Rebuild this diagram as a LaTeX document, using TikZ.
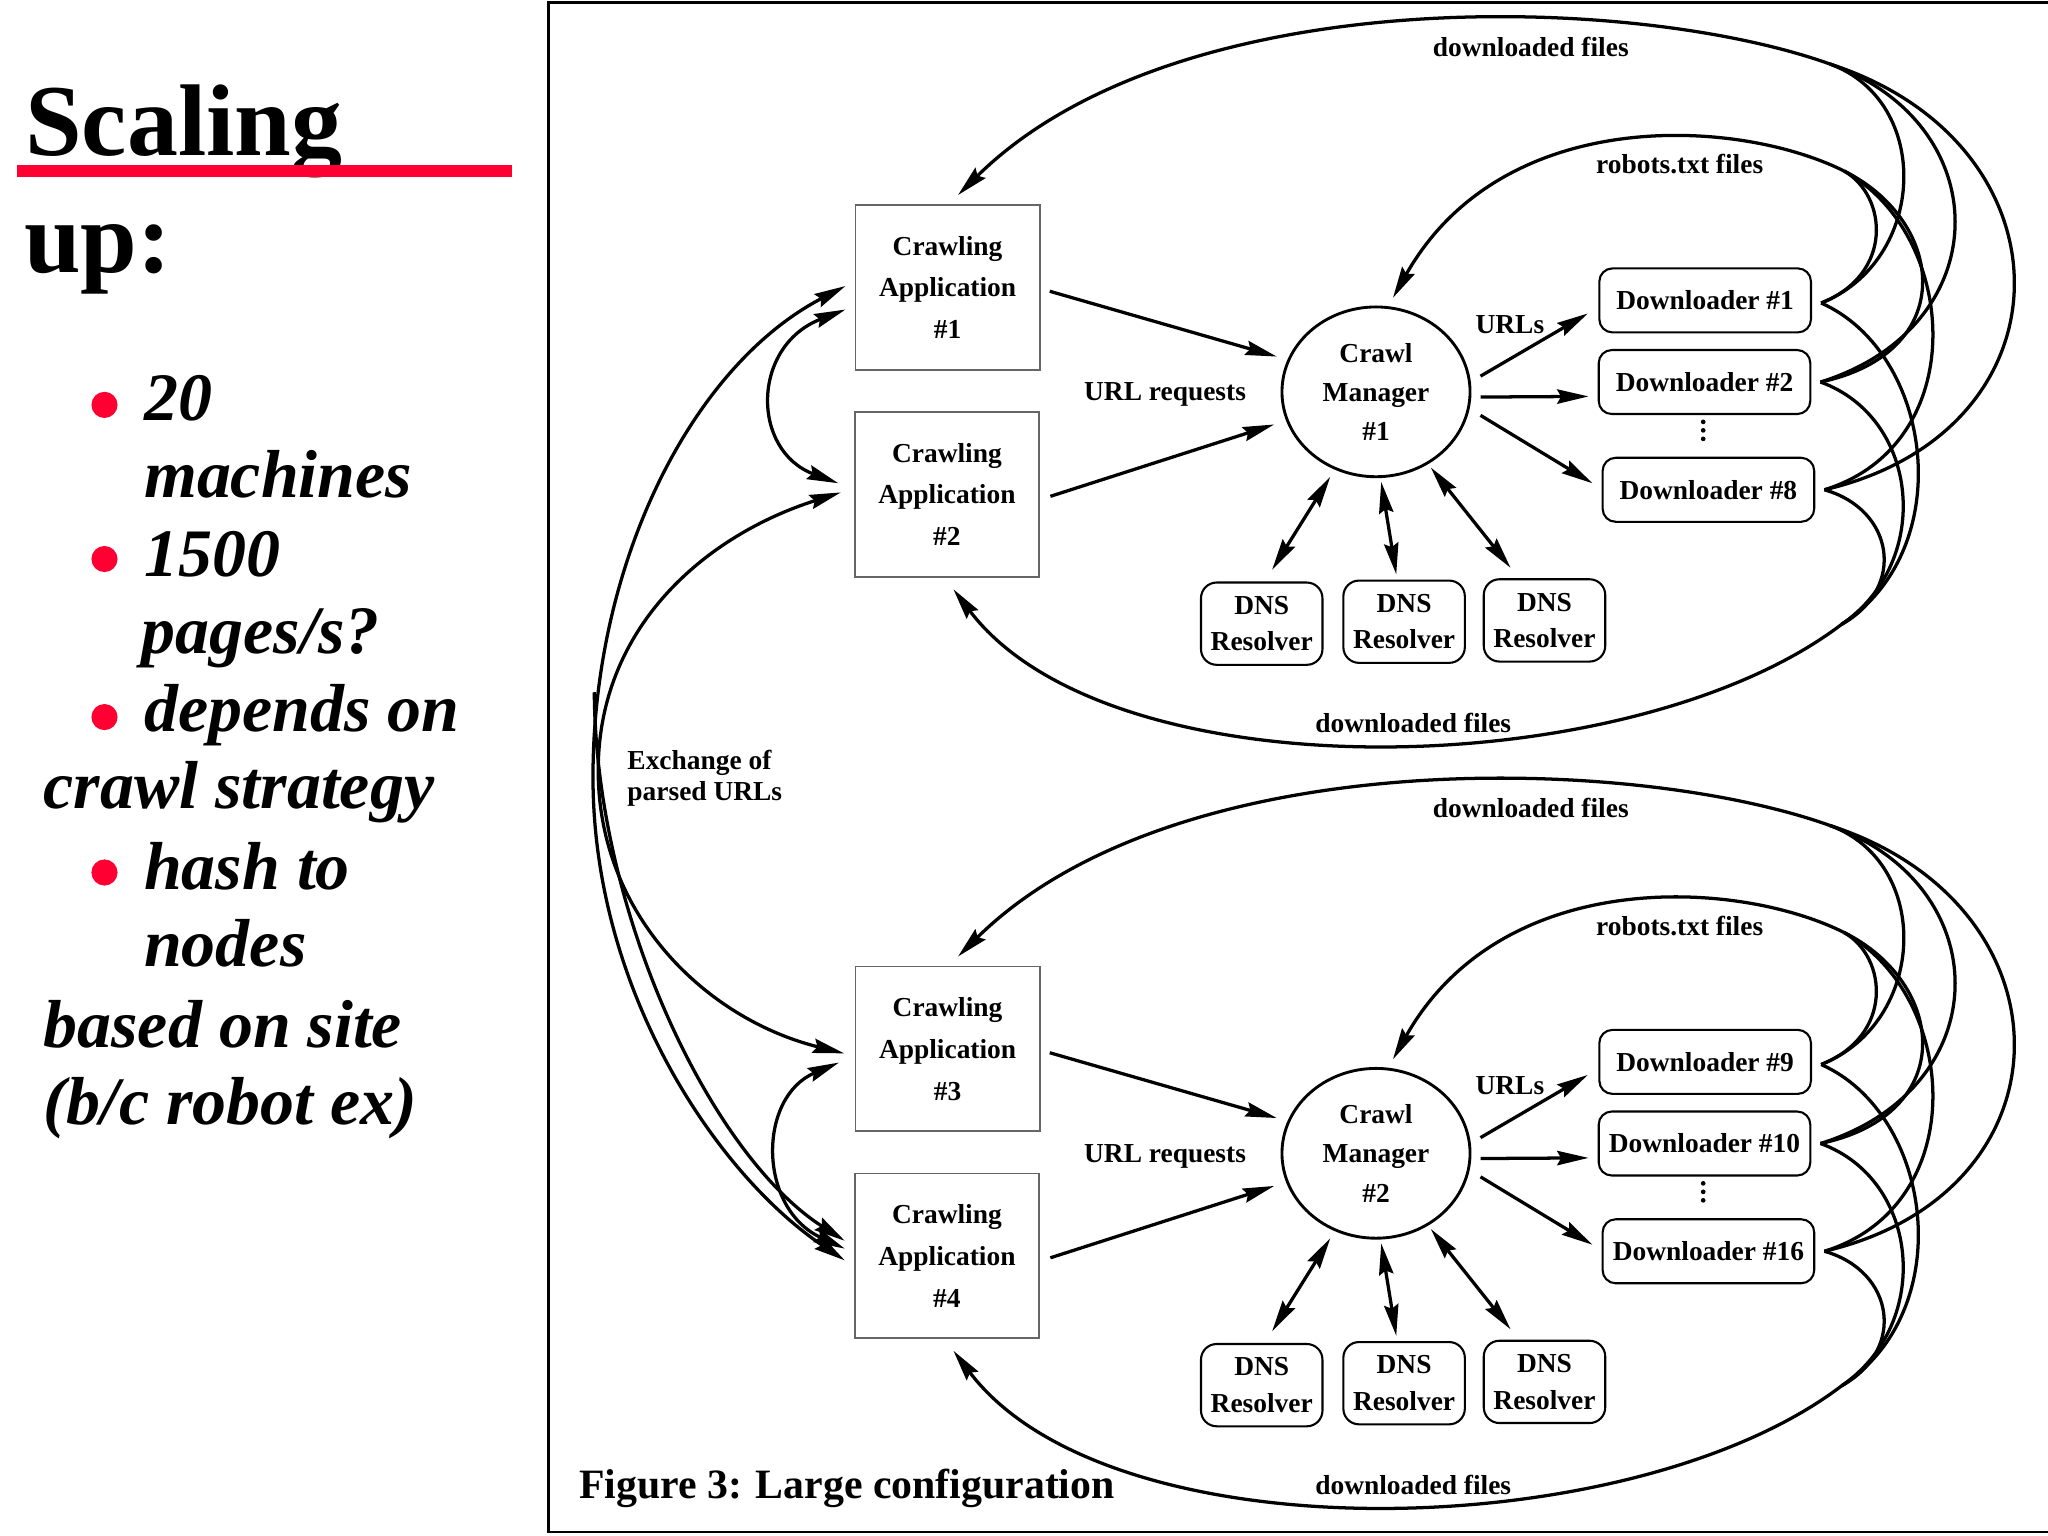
\documentclass[tikz,border=0pt]{standalone}
\usepackage{fontspec}
\setmainfont{Liberation Serif}
\usetikzlibrary{arrows.meta,calc,shapes.geometric}
\definecolor{slidered}{RGB}{255,0,51}

\tikzset{
  dtext/.style={font=\bfseries\fontsize{10.5}{16}\selectfont},
  appbox/.style={draw=black!60, line width=0.7pt, minimum width=70.5pt, minimum height=63pt,
    align=center, inner sep=0pt, dtext},
  cmnode/.style={ellipse, draw, line width=1.1pt, minimum width=72pt, minimum height=65pt,
    inner sep=0pt, align=center, font=\bfseries\fontsize{10.5}{15}\selectfont},
  dlbox/.style={draw, rounded corners=5pt, line width=0.8pt, minimum width=81pt,
    minimum height=24.5pt, inner sep=0pt, dtext},
  dnsbox/.style={draw, rounded corners=6pt, line width=0.8pt, minimum width=46.5pt,
    minimum height=31.5pt, inner sep=0pt, align=center, font=\bfseries\fontsize{10.5}{14}\selectfont},
  lbl/.style={dtext, anchor=base, inner sep=0pt},
  conn/.style={line width=1.25pt},
  arr/.style={conn, -{Stealth[length=12pt,width=5.5pt,inset=1.5pt]}},
  darr/.style={conn, {Stealth[length=12pt,width=5.5pt,inset=1.5pt]}-{Stealth[length=12pt,width=5.5pt,inset=1.5pt]}},
  reddot/.style={circle, fill=slidered, minimum size=10pt, inner sep=0pt},
  bultext/.style={anchor=base west, inner sep=0pt, font=\bfseries\itshape\fontsize{26}{30}\selectfont},
  titletext/.style={anchor=base west, inner sep=0pt, font=\bfseries\fontsize{39}{39}\selectfont}
}

% #1 prefix, #2 #3 application numbers, #4 manager number, #5 #6 #7 downloader numbers, #8 y offset
\newcommand{\crawlhalf}[8]{%
  \node[appbox] (#1app1) at (725.5,{220+#8}) {Crawling\\Application\\\##2};
  \node[appbox] (#1app2) at (725,{378.5+#8}) {Crawling\\Application\\\##3};
  \node[cmnode] (#1cm) at (1053.5,{300+#8}) {Crawl\\Manager\\\##4};
  \node[dlbox] (#1d1) at (1305.5,{230+#8}) {Downloader \##5};
  \node[dlbox] (#1d2) at (1305,{292.5+#8}) {Downloader \##6};
  \node[dlbox] (#1d3) at (1308,{375+#8}) {Downloader \##7};
  \fill (1304,{323+#8}) circle (0.9pt) (1304,{329.5+#8}) circle (0.9pt) (1304,{336+#8}) circle (0.9pt);
  \node[dnsbox] (#1dns1) at (966,{477.5+#8}) {DNS\\Resolver};
  \node[dnsbox] (#1dns2) at (1075,{476+#8}) {DNS\\Resolver};
  \node[dnsbox] (#1dns3) at (1182.5,{475+#8}) {DNS\\Resolver};
  \node[lbl] (#1ldt) at (1172,{43+#8}) {downloaded files};
  \node[lbl] (#1lrb) at (1286,{133+#8}) {robots.txt files};
  \node[lbl] (#1lur) at (892,{307+#8}) {URL requests};
  \node[lbl] (#1lurls) at (1156,{255+#8}) {URLs};
  \node[lbl] (#1ldb) at (1082,{561+#8}) {downloaded files};
  % straight connectors
  \draw[arr] ($(#1app1.east)+(7,3)$) -- ($(#1cm)+(-76,-27)$);
  \draw[arr] ($(#1app2.east)+(8,1.5)$) -- ($(#1cm)+(-78,25)$);
  \draw[arr] ($(#1cm)+(80,-12)$) -- ($(#1d1.west)+(-8,10)$);
  \draw[arr] ($(#1cm)+(80,4)$) -- ($(#1d2.west)+(-7,11)$);
  \draw[arr] ($(#1cm)+(80,18)$) -- ($(#1d3.west)+(-7,-5)$);
  \draw[darr] ($(#1cm)+(-35,65)$) -- ($(#1dns1.north)+(8,-9)$);
  \draw[darr] ($(#1cm)+(4,69)$) -- ($(#1dns2.north)+(-6,-4)$);
  \draw[darr] ($(#1cm)+(42,58)$) -- ($(#1dns3.north)+(-26,-8)$);
  % convergence points
  \coordinate (#1T) at (1401,{49+#8});
  \coordinate (#1R) at (1412,{131+#8});
  \coordinate (#1B) at (1410,{478+#8});
  % downloaded files (top) to upper application
  \draw[arr] (#1T) .. controls (1250,{-5+#8}) and (900,{-15+#8}) .. ($(#1app1.north)+(8,-7)$);
  \draw[conn] (#1T) .. controls (1480,{78+#8}) and (1475,{200+#8}) .. ($(#1d1.east)+(7,2)$);
  \draw[conn] (#1T) .. controls (1530,{95+#8}) and (1530,{250+#8}) .. ($(#1d2.east)+(7,0)$);
  \draw[conn] (#1T) .. controls (1590,{110+#8}) and (1590,{330+#8}) .. ($(#1d3.east)+(7,0)$);
  % robots.txt files to crawl manager
  \draw[arr] (#1R) .. controls (1330,{90+#8}) and (1150,{80+#8}) .. ($(#1cm)+(13,-72)$);
  \draw[conn] (#1R) .. controls (1445,{150+#8}) and (1450,{210+#8}) .. ($(#1d1.east)+(7,2)$);
  \draw[conn] (#1R) .. controls (1490,{170+#8}) and (1500,{270+#8}) .. ($(#1d2.east)+(7,0)$);
  \draw[conn] (#1R) .. controls (1500,{180+#8}) and (1510,{340+#8}) .. ($(#1d3.east)+(7,0)$);
  % downloaded files (bottom) to lower application
  \draw[arr] (#1B) .. controls (1250,{600+#8}) and (850,{610+#8}) .. ($(#1app2.south)+(5,9)$);
  \draw[conn] ($(#1d1.east)+(7,2)$) .. controls (1480,{270+#8}) and (1500,{420+#8}) .. (#1B);
  \draw[conn] ($(#1d2.east)+(7,0)$) .. controls (1470,{320+#8}) and (1480,{430+#8}) .. (#1B);
  \draw[conn] ($(#1d3.east)+(7,0)$) .. controls (1450,{390+#8}) and (1460,{450+#8}) .. (#1B);
}

\begin{document}
\begin{tikzpicture}[x=0.5pt,y=-0.5pt]
  \useasboundingbox (0,0) rectangle (1568,1176);
  \fill[white] (0,0) rectangle (1568,1176);

  % slide text
  \node[titletext] (title1) at (19,119) {Scaling};
  \node[titletext] (title2) at (18,209) {up:};
  \draw[slidered, line width=4.5pt] (13,131) -- (392,131);

  \node[reddot] (b1) at (80,310) {};
  \node[reddot] (b2) at (80,428) {};
  \node[reddot] (b3) at (80,549) {};
  \node[reddot] (b4) at (80,668) {};
  \node[bultext] (l1) at (110,322) {20};
  \node[bultext] (l2) at (110,381) {machines};
  \node[bultext] (l3) at (110,441) {1500};
  \node[bultext] (l4) at (108,500) {pages/s?};
  \node[bultext] (l5) at (110,560) {depends on};
  \node[bultext] (l6) at (33,619) {crawl strategy};
  \node[bultext] (l7) at (110,681) {hash to};
  \node[bultext] (l8) at (110,740) {nodes};
  \node[bultext] (l9) at (33,802) {based on site};
  \node[bultext] (l10) at (33,861) {(b/c robot ex)};

  % figure frame
  \draw[line width=1pt] (1570,2) -- (420,2) -- (420,1173) -- (1570,1173);

  \crawlhalf{a}{1}{2}{1}{1}{2}{8}{0}
  \crawlhalf{b}{3}{4}{2}{9}{10}{16}{583}

  % exchange of parsed URLs
  \draw[darr] ($(aapp1.west)+(-7,17)$) .. controls (575,265) and (575,345) .. ($(aapp2.west)+(-12,-8.5)$);
  \draw[darr] ($(bapp1.west)+(-12,10.5)$) .. controls (580,840) and (580,925) .. ($(bapp2.west)+(-7,-5.5)$);
  \draw[darr] ($(aapp1.west)+(-7,-1)$) .. controls (530,280) and (454,430) .. (454,595)
     .. controls (454,760) and (550,900) .. ($(bapp2.west)+(-7,3.5)$);
  \draw[darr] ($(aapp2.west)+(-10,-1.5)$) .. controls (540,410) and (458,480) .. (458,590)
     .. controls (458,700) and (540,780) .. ($(bapp1.west)+(-8,3.5)$);
  \coordinate (exj) at (455,530);
  \draw[arr] (exj) .. controls (456,700) and (545,885) .. ($(bapp2.west)+(-7,-11.5)$);

  \node[dtext, anchor=base west, inner sep=0pt] (ex1) at (480,589) {Exchange of};
  \node[dtext, anchor=base west, inner sep=0pt] (ex2) at (480,613) {parsed URLs};

  \node[anchor=base west, inner sep=0pt, font=\bfseries\fontsize{16}{16}\selectfont] (caption) at (443,1147) {Figure 3: Large configuration};
\end{tikzpicture}
\end{document}
